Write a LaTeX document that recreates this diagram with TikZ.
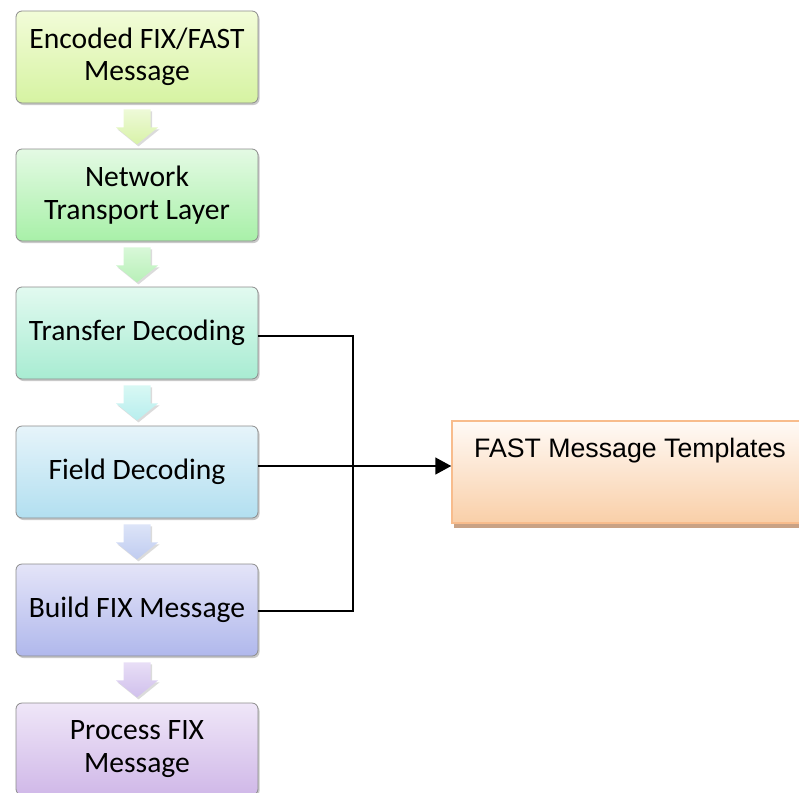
\documentclass[tikz,border=0pt]{standalone}
\usepackage{fontspec}
\setmainfont{Carlito}
\newfontfamily\arialfont{Liberation Sans}
\usetikzlibrary{shadows,calc,arrows.meta}
\definecolor{aT}{HTML}{F2FCD8}\definecolor{aB}{HTML}{D6F3A2}
\definecolor{bT}{HTML}{E4FAE4}\definecolor{bB}{HTML}{A8F0A8}
\definecolor{cT}{HTML}{E2FAF0}\definecolor{cB}{HTML}{A8ECD2}
\definecolor{dT}{HTML}{E6F4FA}\definecolor{dB}{HTML}{B2DFF0}
\definecolor{eT}{HTML}{E4E4F8}\definecolor{eB}{HTML}{B0B8EC}
\definecolor{fT}{HTML}{EFE6F8}\definecolor{fB}{HTML}{D0B8E8}
\definecolor{fastT}{HTML}{FFFAF6}\definecolor{fastB}{HTML}{F9CFA8}
\definecolor{fastLine}{HTML}{F8BC8C}\definecolor{fastShadow}{HTML}{C9A285}
\begin{document}
\begin{tikzpicture}[x=1pt,y=-1pt,
  stage/.style={draw=black!45, line width=0.8pt, rounded corners=6pt,
    minimum width=242pt, minimum height=92pt, align=center, inner sep=0pt,
    font=\fontsize{29.6}{32.5}\selectfont,
    drop shadow={shadow xshift=1.5pt, shadow yshift=-2pt, opacity=0.3, fill=black!70}},
  blockarrow/.style={draw=none,
    drop shadow={shadow xshift=1.5pt, shadow yshift=-2pt, opacity=0.2, fill=black!70}},
  link/.style={draw=black, line width=1.2pt}]
\useasboundingbox (0,0) rectangle (799,792);

\node[stage, top color=aT, bottom color=aB] (b1) at (137,57) {Encoded FIX/FAST\\Message};
\node[stage, top color=bT, bottom color=bB] (b2) at (137,195) {Network\\Transport Layer};
\node[stage, top color=cT, bottom color=cB] (b3) at (137,333) {Transfer Decoding};
\node[stage, top color=dT, bottom color=dB] (b4) at (137,472) {Field Decoding};
\node[stage, top color=eT, bottom color=eB] (b5) at (137,610) {Build FIX Message};
\node[stage, top color=fT, bottom color=fB] (b6) at (137,749) {Process FIX\\Message};

% block arrows between stages
\foreach \src/\ct/\cb in {b1/EEFAD8/D8F2A8, b2/D8F8D8/B8F0B8, b3/D8F8F4/B8EEEE, b4/DCE4F8/C0CCF0, b5/E8DEF6/D0C0EC}{
  \definecolor{tmpT}{HTML}{\ct}\definecolor{tmpB}{HTML}{\cb}
  \path[blockarrow, top color=tmpT, bottom color=tmpB]
    ($(\src.south)+(-13.5,6)$) -- ($(\src.south)+(13.5,6)$) -- ($(\src.south)+(13.5,24)$)
    -- ($(\src.south)+(21,24)$) -- ($(\src.south)+(0,41)$) -- ($(\src.south)+(-21,24)$)
    -- ($(\src.south)+(-13.5,24)$) -- cycle;
}

\node[draw=fastLine, line width=1.5pt, top color=fastT, bottom color=fastB,
  minimum width=358pt, minimum height=102pt, inner sep=0pt,
  drop shadow={shadow xshift=2pt, shadow yshift=-5pt, opacity=1, fill=fastShadow}]
  (fast) at (631,472) {};
\node[anchor=base west, inner sep=0pt, font=\arialfont\fontsize{26.7}{30}\selectfont]
  (fasttext) at (474,457.5) {FAST Message Templates};

\coordinate (jx) at (353,0);
\coordinate (ty) at (0,336);
\coordinate (by) at (0,611);
\coordinate (fy) at (0,466);
\draw[link] (b3.east |- ty) -| (jx |- by) -- (b5.east |- by);
\draw[link, line width=1.5pt, -{Triangle[length=16pt,width=17pt]}] (b4.east |- fy) -- (fast.west |- fy);
\end{tikzpicture}
\end{document}
